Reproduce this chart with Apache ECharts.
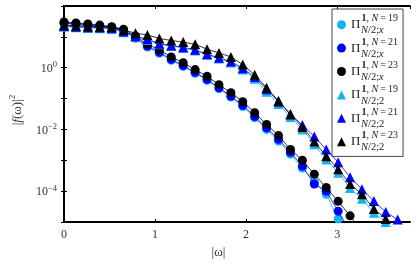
<!DOCTYPE html>
<html><head><meta charset="utf-8">
<script src="https://cdn.jsdelivr.net/npm/echarts@6/dist/echarts.min.js"></script>
<style>html,body{margin:0;padding:0;background:#fff}#c{width:416px;height:264px}</style>
</head><body><div id="c"></div>
<script>
var omega = [0, 0.131, 0.262, 0.393, 0.524, 0.654, 0.785, 0.916, 1.047, 1.178, 1.309, 1.440, 1.571, 1.702, 1.833, 1.963, 2.094, 2.225, 2.356, 2.487, 2.618, 2.749, 2.880, 3.011, 3.142, 3.272, 3.403, 3.534, 3.665];
var circ19 = [26.9, 25.1, 23.4, 21.4, 19.1, 15.5, 8.91, 4.68, 2.95, 1.74, 1.10, 0.661, 0.389, 0.209, 0.112, 0.0550, 0.0240, 0.0100, 4.17e-3, 1.58e-3, 5.62e-4, 2.0e-4, 7.94e-5, 1.26e-5, 3.98e-6];
var circ21 = [28.2, 26.3, 24.5, 22.4, 20.0, 16.2, 9.55, 5.01, 3.16, 1.86, 1.17, 0.708, 0.417, 0.224, 0.120, 0.0603, 0.0263, 0.0112, 4.79e-3, 1.82e-3, 6.46e-4, 1.70e-4, 1.0e-4, 2.24e-5, 5.0e-6];
var circ23 = [30.2, 28.2, 26.3, 24.0, 21.4, 17.8, 10.7, 5.75, 3.80, 2.24, 1.45, 0.871, 0.525, 0.282, 0.155, 0.0794, 0.0347, 0.0145, 6.31e-3, 2.24e-3, 1.0e-3, 3.55e-4, 1.32e-4, 4.68e-5, 1.58e-5, 5.0e-6];
var tri19 = [21.4, 20.4, 19.5, 19.1, 18.2, 14.1, 10.0, 7.94, 5.75, 5.01, 4.37, 3.63, 2.63, 2.0, 1.48, 0.871, 0.437, 0.166, 0.0661, 0.0251, 0.0100, 3.31e-3, 1.07e-3, 3.98e-4, 1.26e-4, 5.62e-5, 2.0e-5, 1.0e-5, 5.0e-6];
var tri21 = [22.4, 21.4, 20.4, 20.0, 19.1, 14.8, 10.5, 8.32, 6.03, 5.25, 4.57, 3.80, 2.75, 2.09, 1.58, 0.955, 0.501, 0.200, 0.0794, 0.0316, 0.0138, 5.89e-3, 2.24e-3, 8.71e-4, 2.82e-4, 1.15e-4, 4.79e-5, 2.09e-5, 1.20e-5];
var tri23 = [24.0, 22.9, 21.9, 21.4, 20.9, 16.6, 13.2, 11.5, 8.91, 7.59, 6.76, 5.75, 3.98, 3.02, 2.24, 1.26, 0.589, 0.224, 0.0851, 0.0302, 0.0120, 4.07e-3, 1.35e-3, 5.13e-4, 1.70e-4, 7.94e-5, 2.63e-5, 1.26e-5, 5.0e-6];
var seriesNames = ['x19', 'x21', 'x23', 't19', 't21', 't23'];
var seriesN = ['19', '21', '23', '19', '21', '23'];
var seriesSub = ['x', 'x', 'x', '2', '2', '2'];
var yLabelExps = [0, -2, -4];

var cyan = '#12b5ee', blue = '#0000ff', black = '#000000';
var colors = [cyan, blue, black, cyan, blue, black];
var symbols = ['circle', 'circle', 'circle', 'triangle', 'triangle', 'triangle'];
var datas = [circ19, circ21, circ23, tri19, tri21, tri23];
var serif = 'Liberation Serif';
var tc = '#222';

function pairs(vals) { return vals.map(function (v, i) { return [omega[i], v]; }); }

var series = datas.map(function (d, i) {
  return {
    name: seriesNames[i], type: 'line', data: pairs(d),
    symbol: symbols[i], symbolSize: symbols[i] === 'circle' ? 9 : 10,
    showSymbol: true, clip: true, animation: false,
    itemStyle: { color: colors[i] },
    lineStyle: { color: colors[i], width: 0.8 },
    emphasis: { disabled: true }, z: 2 + i
  };
});

var LH = 11.7;
function rs(extra) {
  var o = { fontFamily: serif, fontSize: 10, lineHeight: LH, color: tc };
  for (var k in extra) o[k] = extra[k];
  return o;
}

var chart = echarts.init(document.getElementById('c'), null, { renderer: 'canvas' });
var tickStyle = { show: true, inside: true, length: 3, lineStyle: { color: '#000', width: 1 } };
var lineStyleAx = { show: true, lineStyle: { color: '#000', width: 2 } };
chart.setOption({
  animation: false,
  grid: { left: 61, right: 6, top: 6, bottom: 42, containLabel: false },
  legend: {
    orient: 'vertical', left: 332, top: 9, padding: [4, 5, 3, 5],
    itemGap: 0, itemWidth: 9, itemHeight: 9,
    backgroundColor: '#fff', borderColor: '#444', borderWidth: 1, borderRadius: 0,
    data: seriesNames.map(function (n, i) { return { name: n, icon: symbols[i] }; }),
    formatter: function (name) {
      var i = seriesNames.indexOf(name);
      return '{pi|Π}{supb|1}{sup|,}{supi| N}{eq|=}{sup|' + seriesN[i] + '}\n{sp| }{subi|N}{sub|/2;}' +
        (seriesSub[i] === 'x' ? '{subi|x}' : '{sub|2}');
    },
    textStyle: {
      fontFamily: serif, color: tc, lineHeight: LH,
      rich: {
        pi: { fontFamily: serif, fontSize: 13, lineHeight: LH, verticalAlign: 'top', padding: [5.2, 1, -6.5, 0], color: tc },
        supb: rs({ fontWeight: 'bold' }),
        sup: rs({}),
        supi: rs({ fontStyle: 'italic' }),
        eq: rs({ width: 10, align: 'center' }),
        sp: rs({ width: 10 }),
        sub: rs({ fontSize: 10.5 }),
        subi: rs({ fontSize: 10.5, fontStyle: 'italic' })
      }
    }
  },
  xAxis: [{
    type: 'value', min: 0, max: 3.8, interval: 1, position: 'bottom',
    axisLine: lineStyleAx, axisTick: tickStyle, splitLine: { show: false },
    axisLabel: { show: true, showMaxLabel: false, margin: 7, fontFamily: serif, fontSize: 12, color: '#333' },
    name: '|ω|', nameLocation: 'middle', nameGap: 24,
    nameTextStyle: { fontFamily: serif, fontSize: 13, color: '#333', padding: [0, 37, 0, 0] }
  }, {
    type: 'value', min: 0, max: 3.8, interval: 1, position: 'top',
    axisLine: lineStyleAx, axisTick: tickStyle, splitLine: { show: false }, axisLabel: { show: false }
  }],
  yAxis: [{
    type: 'log', logBase: 10, min: 1e-5, max: 1e2, interval: 1, position: 'left',
    axisLine: lineStyleAx, axisTick: tickStyle, splitLine: { show: false }, minorTick: { show: false },
    axisLabel: {
      margin: 7, fontFamily: serif, color: '#333',
      formatter: function (v) {
        var e = Math.round(Math.log10(v));
        if (yLabelExps.indexOf(e) < 0) return '';
        return '{b|10}{s|' + (e < 0 ? '−' + (-e) : e) + '}';
      },
      rich: {
        b: { fontFamily: serif, fontSize: 12, color: '#333', verticalAlign: 'bottom', lineHeight: 14 },
        s: { fontFamily: serif, fontSize: 8.5, color: '#333', verticalAlign: 'top', lineHeight: 14 }
      }
    },
    name: '{n||}{fi|f}{n|(ω)|}{sq|2}', nameLocation: 'middle', nameGap: 40, nameRotate: 90,
    nameTextStyle: {
      fontFamily: serif, fontSize: 13, color: '#333', padding: [0, 0, 0, 8],
      rich: {
        n: { fontFamily: serif, fontSize: 13, color: '#333', verticalAlign: 'bottom', lineHeight: 16 },
        fi: { fontFamily: serif, fontSize: 13, fontStyle: 'italic', color: '#333', verticalAlign: 'bottom', lineHeight: 16 },
        sq: { fontFamily: serif, fontSize: 9, color: '#333', verticalAlign: 'top', lineHeight: 16 }
      }
    }
  }, {
    type: 'log', logBase: 10, min: 1e-5, max: 1e2, interval: 1, position: 'right',
    axisLine: lineStyleAx, axisTick: tickStyle, splitLine: { show: false }, axisLabel: { show: false }
  }],
  series: series
});
</script></body></html>
